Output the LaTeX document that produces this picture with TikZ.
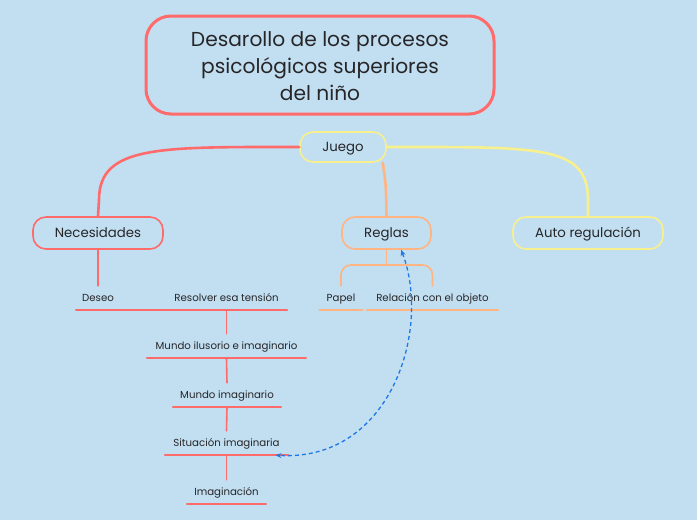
\documentclass[tikz,border=0pt]{standalone}
\usepackage{fontspec}
\setmainfont{Poppins}
\usetikzlibrary{arrows.meta}
\definecolor{bg}{RGB}{194,222,241}
\definecolor{redc}{RGB}{255,107,107}
\definecolor{yelc}{RGB}{247,240,140}
\definecolor{orac}{RGB}{255,180,130}
\definecolor{bluc}{RGB}{30,120,230}
\definecolor{txt}{RGB}{38,38,40}
\begin{document}
\begin{tikzpicture}[x=1pt,y=-1pt,
  topic/.style={draw, fill=bg, rounded corners=13pt, line width=1.6pt, minimum height=32pt,
    text=txt, font=\fontsize{13.3}{15}\selectfont, inner sep=0pt, text height=9.5pt, text depth=0.5pt},
  sub/.style={text=txt, font=\fontsize{10.2}{12}\selectfont, inner sep=0pt, minimum height=24pt,
    text height=7.5pt, text depth=0.5pt},
  ul/.style={line width=1.6pt, line cap=round},
  conn/.style={line width=2.6pt, line cap=round},
  link/.style={bluc, line width=1.3pt, dash pattern=on 4pt off 3pt,
    {Stealth[length=6pt,width=5pt]}-{Stealth[length=6pt,width=5pt]}}
]
\fill[bg] (0,0) rectangle (697,520);
\useasboundingbox (0,0) rectangle (697,520);

% title
\node[draw=redc, line width=3pt, rounded corners=25pt, minimum width=348pt, minimum height=98pt,
  align=center, text=txt, font=\fontsize{20.2}{27}\selectfont] (title) at (320,65)
  {\raisebox{-3pt}[\height][\depth]{\begin{tabular}{@{}c@{}}Desarollo de los procesos\\psicológicos superiores\\del niño\end{tabular}}};

% main topics
\node[topic, draw=yelc, minimum width=86pt, minimum height=30pt] (juego) at (343,147) {Juego};
\node[topic, draw=redc, minimum width=130pt] (nec) at (98,233) {Necesidades};
\node[topic, draw=orac, minimum width=89pt] (reglas) at (386.5,233) {Reglas};
\node[topic, draw=yelc, minimum width=150pt] (auto) at (588,233) {Auto regulación};

% connectors from Juego
\draw[conn, redc] (juego.west) .. controls (160,147) and (99,145) .. (99,200) -- (nec.north);
\draw[conn, yelc] (juego.east) .. controls (540,147) and (588,145) .. (588,200) -- (auto.north);
\draw[conn, orac] ([xshift=-4pt]juego.south east) .. controls (386,185) .. (reglas.north);

% Necesidades branch
\node[sub, minimum width=44pt] (deseo) at (98,298) {Deseo};
\node[sub, minimum width=121pt] (resol) at (226.5,298) {Resolver esa tensión};
\node[sub, minimum width=159pt] (ilus) at (226.5,346) {Mundo ilusorio e imaginario};
\node[sub, minimum width=108pt] (mimag) at (227,395) {Mundo imaginario};
\node[sub, minimum width=123pt] (sit) at (226.5,443) {Situación imaginaria};
\node[sub, minimum width=79pt] (imag) at (226.5,492) {Imaginación};

\draw[ul, redc] (deseo.south west) -- (deseo.south east) -- (resol.south east);
\draw[ul, redc] (ilus.south west) -- (ilus.south east);
\draw[ul, redc] (mimag.south west) -- (mimag.south east);
\draw[ul, redc] (sit.south west) -- (sit.south east);
\draw[ul, redc] (imag.south west) -- (imag.south east);

\draw[ul, redc] (nec.south) -- (deseo.north);
\draw[ul, redc] (resol.south) -- (ilus.north);
\draw[ul, redc] (ilus.south) -- (mimag.north);
\draw[ul, redc] (mimag.south) -- (sit.north);
\draw[ul, redc] (sit.south) -- (imag.north);

% Reglas branch
\node[sub, minimum width=43pt] (papel) at (341,298) {Papel};
\node[sub, minimum width=131pt] (rel) at (432.5,298) {Relación con el objeto};
\draw[ul, orac] (papel.south west) -- (papel.south east);
\draw[ul, orac] (rel.south west) -- (rel.south east);
\coordinate (rb) at (386.5,265);
\draw[ul, orac] (reglas.south) -- (rb);
\draw[ul, orac, rounded corners=10pt] (papel.north) |- (rb) -| (rel.north);

% dashed relation
\draw[link] (reglas.-49) .. controls (432,330) and (390,462) .. (sit.-14);
\end{tikzpicture}
\end{document}
